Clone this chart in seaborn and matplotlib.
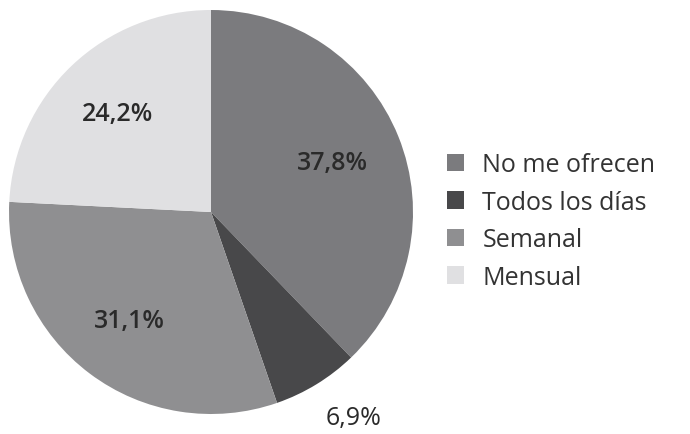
import numpy as np
import matplotlib
matplotlib.use("Agg")
import matplotlib.pyplot as plt
import seaborn as sns

# Datos del gráfico
categorias = ["No me ofrecen", "Todos los días", "Semanal", "Mensual"]
porcentajes = [37.8, 6.9, 31.1, 24.2]
etiquetas = ["37,8%", "6,9%", "31,1%", "24,2%"]
colores = ["#7b7b7e", "#48484a", "#8f8f91", "#e0e0e2"]

# Posición de las etiquetas (distancia radial y ajuste angular en grados)
distancias = [0.65, 1.24, 0.67, 0.67]
ajustes = [0, 3.2, 0, 0]
pesos = ["semibold", "normal", "semibold", "semibold"]

sns.set_theme(style="white")
plt.rcParams["font.family"] = ["Open Sans", "DejaVu Sans"]

fig = plt.figure(figsize=(6.9, 4.35), dpi=100)
W, H = 690, 435
cx, cy, r = 211, 435 - 213, 202
ax = fig.add_axes([(cx - r) / W, (cy - r) / H, 2 * r / W, 2 * r / H])

wedges, _ = ax.pie(porcentajes, colors=colores, startangle=90, counterclock=False,
                   radius=1.0, wedgeprops=dict(linewidth=0))
ax.set_xlim(-1, 1)
ax.set_ylim(-1, 1)
ax.set_aspect("equal")
ax.axis("off")

# Etiquetas de porcentaje
for w, txt, d, a, p in zip(wedges, etiquetas, distancias, ajustes, pesos):
    ang = np.deg2rad((w.theta1 + w.theta2) / 2 + a)
    ax.text(d * np.cos(ang), d * np.sin(ang), txt, ha="center", va="center",
            fontsize=18, fontweight=p, color="#2a2a2a")

fig.legend(wedges, categorias, loc="center left", bbox_to_anchor=(0.615, 0.49),
           frameon=False, fontsize=18, handlelength=0.7, handleheight=0.7,
           handletextpad=0.72, labelspacing=0.5, labelcolor="#333333")

fig.savefig("out.png", dpi=100)
